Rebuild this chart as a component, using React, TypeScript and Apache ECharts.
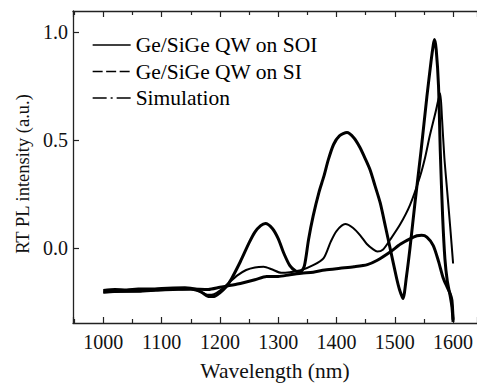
import React, { useEffect, useRef } from "react";
import * as echarts from "echarts";

const FONT = "Liberation Serif, Times New Roman, serif";

// Ge/SiGe QW on SOI (measured)
const soiWavelength = [1000, 1020, 1040, 1060, 1080, 1100, 1120, 1140, 1160, 1170, 1180, 1190, 1200, 1210, 1220, 1235, 1250, 1260, 1270, 1278, 1290, 1300, 1310, 1320, 1330, 1338, 1345, 1352, 1360, 1370, 1378, 1386, 1395, 1405, 1418, 1430, 1440, 1450, 1458, 1466, 1475, 1484, 1492, 1503, 1508, 1514, 1520, 1526, 1535, 1545, 1555, 1562, 1566, 1568, 1571, 1575, 1578, 1582, 1586, 1590, 1595, 1598, 1600];
const soiIntensity = [-0.195, -0.19, -0.192, -0.188, -0.188, -0.185, -0.183, -0.182, -0.19, -0.205, -0.222, -0.222, -0.205, -0.18, -0.14, -0.062, 0.025, 0.075, 0.105, 0.115, 0.092, 0.045, -0.025, -0.08, -0.105, -0.11, -0.08, 0.04, 0.15, 0.26, 0.33, 0.41, 0.48, 0.52, 0.535, 0.51, 0.467, 0.41, 0.36, 0.29, 0.21, 0.1, 0.0, -0.137, -0.19, -0.232, -0.13, 0.0, 0.22, 0.45, 0.7, 0.86, 0.94, 0.965, 0.92, 0.75, 0.45, 0.15, -0.05, -0.15, -0.22, -0.27, -0.34];

// Ge/SiGe QW on SI (measured)
const siWavelength = [1000, 1030, 1060, 1090, 1120, 1150, 1180, 1200, 1230, 1260, 1280, 1300, 1320, 1340, 1360, 1380, 1406, 1430, 1453, 1470, 1492, 1510, 1526, 1538, 1546, 1555, 1566, 1575, 1583, 1590, 1595, 1598, 1600];
const siIntensity = [-0.2, -0.198, -0.196, -0.192, -0.19, -0.188, -0.19, -0.18, -0.165, -0.145, -0.13, -0.13, -0.122, -0.115, -0.11, -0.1, -0.092, -0.085, -0.075, -0.055, -0.017, 0.02, 0.044, 0.058, 0.06, 0.052, 0.013, -0.06, -0.137, -0.18, -0.21, -0.24, -0.33];

// Simulation
const simWavelength = [1000, 1030, 1060, 1090, 1120, 1150, 1165, 1180, 1190, 1200, 1215, 1230, 1245, 1260, 1275, 1290, 1305, 1320, 1340, 1360, 1378, 1390, 1400, 1415, 1428, 1441, 1452, 1463, 1470, 1480, 1492, 1509, 1526, 1543, 1552, 1560, 1570, 1575, 1578, 1581, 1585, 1590, 1595, 1600];
const simIntensity = [-0.205, -0.2, -0.2, -0.195, -0.19, -0.19, -0.2, -0.215, -0.212, -0.195, -0.16, -0.125, -0.1, -0.088, -0.085, -0.098, -0.113, -0.11, -0.1, -0.078, -0.045, 0.03, 0.08, 0.112, 0.095, 0.059, 0.02, -0.005, -0.015, -0.005, 0.04, 0.11, 0.2, 0.33, 0.42, 0.52, 0.63, 0.69, 0.716, 0.6, 0.42, 0.26, 0.1, -0.07];

const seriesNames = ["Ge/SiGe QW on SOI", "Ge/SiGe QW on SI", "Simulation"];

const zip = (xs: number[], ys: number[]) => xs.map((x, i) => [x, ys[i]]);

export default function App() {
  const ref = useRef<HTMLDivElement>(null);
  useEffect(() => {
    const chart = echarts.init(ref.current!, null, { renderer: "svg" });
    const axisColor = "#222";
    const xCommon = {
      type: "value",
      min: 948,
      max: 1641,
      splitLine: { show: false },
      axisLine: { show: true, onZero: false, lineStyle: { color: axisColor, width: 1.3 } },
      axisTick: { show: true, inside: true, length: 6, lineStyle: { color: axisColor, width: 1.2 } },
      minorTick: { show: true, splitNumber: 2, length: 4, lineStyle: { color: axisColor, width: 1.2 } },
    };
    chart.setOption({
      animation: false,
      textStyle: { fontFamily: FONT },
      grid: { left: 73, right: 0, top: 11, bottom: 58 },
      legend: {
        orient: "vertical",
        left: 92,
        top: 34,
        padding: 0,
        itemWidth: 38,
        itemHeight: 14,
        itemGap: 4.5,
        itemStyle: { opacity: 0 },
        textStyle: { fontFamily: FONT, fontSize: 21.5, color: "#000", lineHeight: 22 },
        data: [
          { name: seriesNames[0], lineStyle: { type: "solid", width: 1.3, color: "#000" } },
          { name: seriesNames[1], lineStyle: { type: [10, 3.5], width: 1.3, color: "#000" } },
          { name: seriesNames[2], lineStyle: { type: [14, 4, 2, 4], width: 1.3, color: "#000" } },
        ],
      },
      xAxis: [
        {
          ...xCommon,
          position: "bottom",
          axisLabel: {
            show: true,
            showMinLabel: false,
            showMaxLabel: false,
            formatter: (v: number) => String(v),
            fontFamily: FONT,
            fontSize: 20,
            color: "#111",
            margin: 9,
          },
          name: "Wavelength (nm)",
          nameLocation: "middle",
          nameGap: 37,
          nameTextStyle: { fontFamily: FONT, fontSize: 21.5, color: "#111" },
        },
        {
          ...xCommon,
          position: "top",
          axisLabel: { show: false },
        },
      ],
      yAxis: {
        type: "value",
        min: -0.345,
        max: 1.097,
        splitNumber: 3,
        splitLine: { show: false },
        axisLine: { show: true, onZero: false, lineStyle: { color: axisColor, width: 1.3 } },
        axisTick: { show: true, inside: true, length: 6, lineStyle: { color: axisColor, width: 1.2 } },
        axisLabel: {
          showMinLabel: false,
          showMaxLabel: false,
          formatter: (v: number) => v.toFixed(1),
          fontFamily: FONT,
          fontSize: 20,
          color: "#111",
          margin: 5,
        },
        name: "RT PL intensity (a.u.)",
        nameLocation: "middle",
        nameGap: 36,
        nameTextStyle: { fontFamily: FONT, fontSize: 18.5, color: "#111", padding: [0, 14, 0, 0] },
      },
      series: [
        {
          name: seriesNames[0],
          type: "line",
          xAxisIndex: 0,
          symbol: "none",
          smooth: 0.25,
          data: zip(soiWavelength, soiIntensity),
          lineStyle: { color: "#000", width: 3 },
        },
        {
          name: seriesNames[1],
          type: "line",
          xAxisIndex: 0,
          symbol: "none",
          smooth: 0.25,
          data: zip(siWavelength, siIntensity),
          lineStyle: { color: "#000", width: 3 },
        },
        {
          name: seriesNames[2],
          type: "line",
          xAxisIndex: 0,
          symbol: "none",
          smooth: 0.25,
          data: zip(simWavelength, simIntensity),
          lineStyle: { color: "#000", width: 2 },
        },
      ],
    });
    return () => chart.dispose();
  }, []);
  return (
    <div
      ref={ref}
      style={{ position: "absolute", left: 0, top: 0, width: 477, height: 387, background: "#fff" }}
    />
  );
}
